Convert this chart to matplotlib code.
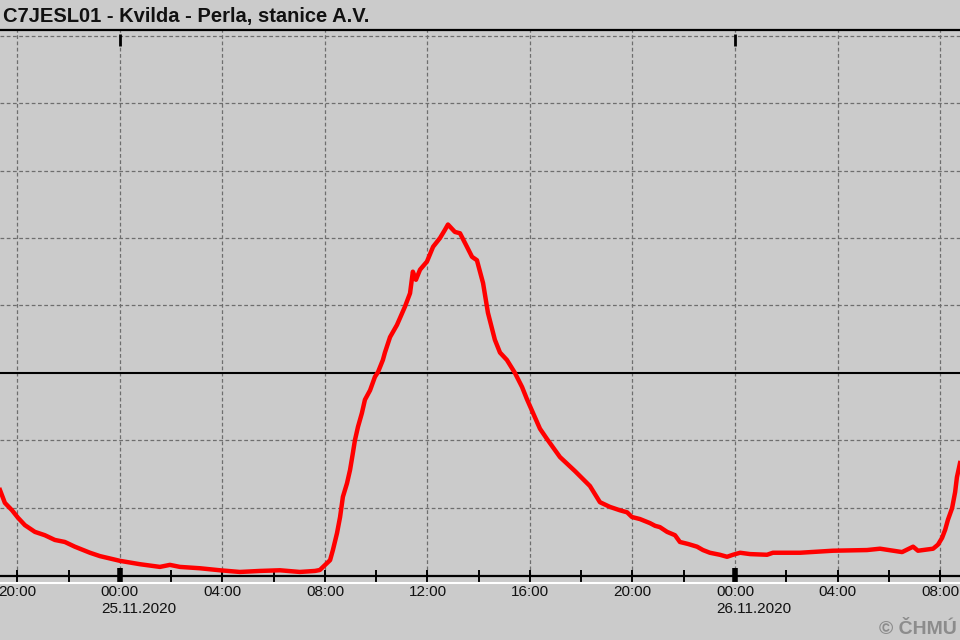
import matplotlib
matplotlib.use("Agg")
import matplotlib.pyplot as plt
import matplotlib.transforms as mtransforms

# time in hours since 24.11.2020 00:00
hours = [19.32, 19.51, 19.79, 20.02, 20.29, 20.68, 21.07, 21.46, 21.85, 22.24,
         22.83, 23.22, 24.00, 24.78, 25.56, 25.95, 26.34, 27.12, 27.90, 28.68,
         29.46, 30.24, 31.02, 31.61, 31.80, 32.20, 32.31, 32.47, 32.59, 32.70,
         32.86, 32.98, 33.09, 33.17, 33.29, 33.44, 33.56, 33.76, 33.95, 34.07,
         34.26, 34.34, 34.54, 34.81, 35.12, 35.32, 35.43, 35.55, 35.71, 35.98,
         36.22, 36.49, 36.68, 36.80, 37.07, 37.27, 37.54, 37.74, 37.93, 38.17,
         38.36, 38.63, 38.83, 39.10, 39.41, 39.69, 39.88, 40.39, 40.66, 41.17,
         41.76, 42.34, 42.73, 43.12, 43.51, 43.79, 43.98, 44.29, 44.68, 44.88,
         45.07, 45.35, 45.66, 45.85, 46.17, 46.52, 46.75, 47.02, 47.41, 47.69,
         47.92, 48.20, 48.59, 49.25, 49.48, 50.54, 51.82, 53.15, 53.66, 54.52,
         54.95, 55.14, 55.73, 55.92, 56.08, 56.20, 56.31, 56.47, 56.59, 56.66,
         56.78]
values = [12.6, 10.7, 9.6, 8.5, 7.4, 6.4, 5.9, 5.2, 4.9, 4.2,
          3.3, 2.8, 2.1, 1.6, 1.2, 1.5, 1.2, 1.0, 0.7, 0.45,
          0.6, 0.7, 0.45, 0.6, 0.74, 2.2, 3.7, 6.2, 8.6, 11.6,
          13.6, 15.6, 18.1, 20.0, 22.0, 24.0, 26.0, 27.4, 29.4, 30.1,
          31.9, 33.0, 35.3, 37.1, 39.8, 41.8, 45.0, 43.8, 45.3, 46.5,
          48.7, 50.0, 51.2, 52.0, 50.9, 50.7, 48.7, 47.2, 46.7, 43.3,
          38.9, 34.9, 33.0, 31.9, 30.0, 27.9, 26.1, 21.7, 20.2, 17.5,
          15.4, 13.2, 10.8, 10.1, 9.6, 9.3, 8.6, 8.3, 7.7, 7.3,
          7.1, 6.4, 5.9, 4.9, 4.6, 4.2, 3.7, 3.3, 3.0, 2.7,
          3.0, 3.3, 3.1, 3.0, 3.3, 3.3, 3.6, 3.7, 3.9, 3.4,
          4.2, 3.6, 3.9, 4.5, 5.5, 6.7, 8.2, 9.9, 12.3, 14.5,
          16.6]

major_ticks = [20, 24, 28, 32, 36, 40, 44, 48, 52, 56]
major_labels = ["20:00", "00:00", "04:00", "08:00", "12:00", "16:00",
                "20:00", "00:00", "04:00", "08:00"]
minor_ticks = [22, 26, 30, 34, 38, 42, 46, 50, 54]
day_ticks = [24, 48]
day_labels = ["25.11.2020", "26.11.2020"]
grid_levels = [10, 20, 40, 50, 60, 70, 80]
ref_level = 30

title = "C7JESL01 - Kvilda - Perla, stanice A.V."

BG = "#cbcbcb"
plt.rcParams['font.family'] = ['Liberation Sans', 'DejaVu Sans']

fig = plt.figure(figsize=(9.6, 6.4), dpi=100, facecolor=BG)
ax = fig.add_axes([0, 1 - 576 / 640, 1, (576 - 30) / 640])
ax.set_facecolor(BG)
ax.set_xlim(19.32, 56.78)
ax.set_ylim(-0.15, 80.86)

for s in ("left", "right"):
    ax.spines[s].set_visible(False)
ax.spines["top"].set_linewidth(1.6)
ax.spines["bottom"].set_linewidth(1.6)

# grid
for g in grid_levels:
    ax.axhline(g, color="#6e6e6e", lw=0.9, ls=(0, (3, 2)), zorder=1)
for t in major_ticks:
    ax.axvline(t, color="#6e6e6e", lw=0.9, ls=(0, (3, 2)), zorder=1)
ax.axhline(ref_level, color="black", lw=1.5, zorder=2)

ax.plot(hours, values, color="#ff0000", lw=3.2, zorder=3, solid_joinstyle="round")

ax.set_yticks([])
ax.set_xticks(major_ticks)
ax.set_xticklabels(major_labels, fontsize=11, color="#111111")
ax.set_xticks(minor_ticks, minor=True)
ax.tick_params(axis="x", which="both", direction="inout", length=9, width=1.4,
               color="black", pad=2)

trans = mtransforms.blended_transform_factory(ax.transData, ax.transAxes)
ax.plot(day_ticks, [0] * len(day_ticks), transform=trans, marker="|", ls="none",
        ms=12, mew=4, color="black", clip_on=False, zorder=5)
ax.plot(day_ticks, [0.981] * len(day_ticks), transform=trans, marker="|", ls="none",
        ms=8, mew=2, color="black", clip_on=False, zorder=5)

for d, lab in zip(day_ticks, day_labels):
    off = mtransforms.offset_copy(trans, fig=fig, x=-19, y=-26, units="dots")
    ax.text(d, 0, lab, transform=off, ha="left", va="top", fontsize=11,
            color="#111111")

# white line below axis
fig.add_artist(plt.Line2D([0, 1], [1 - 583 / 640] * 2, color="white", lw=1.5,
                          transform=fig.transFigure))

fig.text(3 / 960, 1 - 22 / 640, title, fontsize=14.5, fontweight="bold",
         ha="left", va="baseline", color="#111111")
fig.text(957 / 960, 1 - 634 / 640, "© ČHMÚ", fontsize=14, fontweight="bold",
         color="#8c8c8c", ha="right", va="baseline")

fig.savefig("out.png", dpi=100, facecolor=BG)
